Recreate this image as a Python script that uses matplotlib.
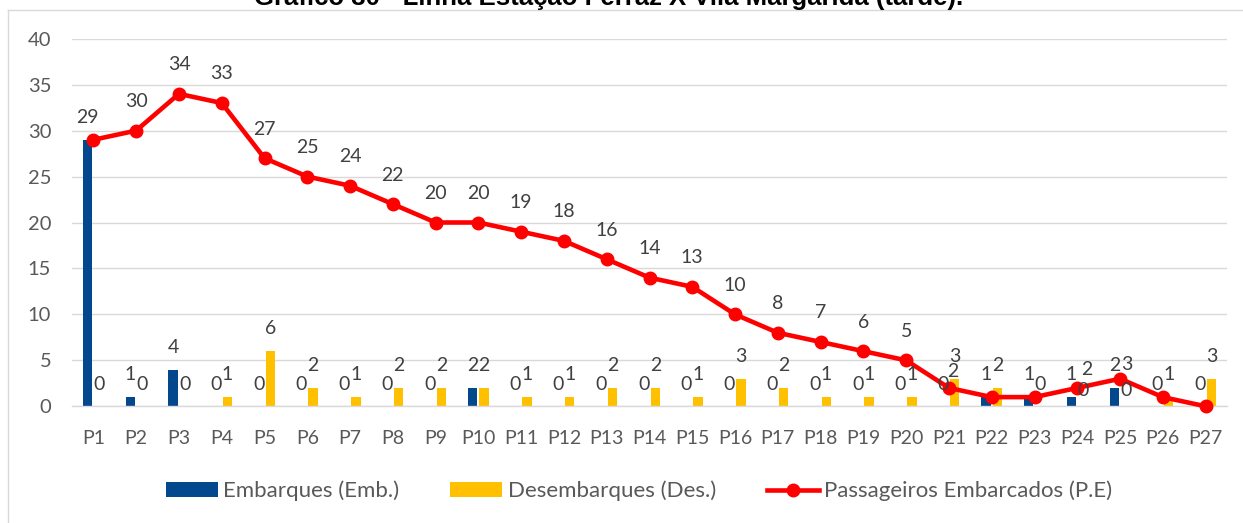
import matplotlib
matplotlib.use("Agg")
import matplotlib.pyplot as plt
from matplotlib.patches import Patch
from matplotlib.lines import Line2D
import numpy as np

plt.rcParams['font.family'] = ['Lato', 'DejaVu Sans']

categories = [f"P{i}" for i in range(1, 28)]
embarques = [29, 1, 4, 0, 0, 0, 0, 0, 0, 2, 0, 0, 0, 0, 0, 0, 0, 0, 0, 0, 0, 1, 1, 1, 2, 0, 0]
desembarques = [0, 0, 0, 1, 6, 2, 1, 2, 2, 2, 1, 1, 2, 2, 1, 3, 2, 1, 1, 1, 3, 2, 0, 0, 0, 1, 3]
passageiros = [29, 30, 34, 33, 27, 25, 24, 22, 20, 20, 19, 18, 16, 14, 13, 10, 8, 7, 6, 5, 2, 1, 1, 2, 3, 1, 0]
title = "Gráfico 30 - Linha Estação Ferraz X Vila Margarida (tarde)."
legend_labels = ["Embarques (Emb.)", "Desembarques (Des.)", "Passageiros Embarcados (P.E)"]

# label placement tweaks seen in the reference (offsets in points)
line_label_hidden = {"P1", "P22", "P23", "P26", "P27"}
line_label_offset = {"P21": (3, 8), "P24": (7, 9.5), "P25": (5, 6.5)}
des_label_offset = {"P24": (0, 7.5), "P25": (0, 7.5)}

W, H = 1243, 523
fig = plt.figure(figsize=(W / 100, H / 100), dpi=100)

BLUE = "#03488D"
YELLOW = "#FFC000"
RED = "#FF0000"
LBL = "#404040"
TICK = "#595959"
GRID = "#D9D9D9"
FS = 14

ax = fig.add_axes([72 / W, 1 - 406.3 / H, (1227 - 72) / W, (406.3 - 38.7) / H])
x = np.arange(len(categories))
bw = 0.22
off = 0.135
ax.bar(x - off, embarques, width=bw, color=BLUE, zorder=2)
ax.bar(x + off, desembarques, width=bw, color=YELLOW, zorder=2)
ax.plot(x, passageiros, color=RED, lw=3.3, marker='o', markersize=9, zorder=3, clip_on=False)

ax.set_xlim(-0.5, len(categories) - 0.5)
ax.set_ylim(0, 40)
ax.set_yticks(range(0, 41, 5))
ax.yaxis.grid(True, color=GRID, lw=1.0, zorder=0)
ax.set_axisbelow(True)
for s in ['top', 'right', 'left']:
    ax.spines[s].set_visible(False)
ax.spines['bottom'].set_color(GRID)
ax.spines['bottom'].set_linewidth(1.0)
ax.set_xticks(x)
ax.set_xticklabels(categories)
ax.tick_params(axis='x', length=0, pad=17, labelsize=FS, labelcolor=TICK)
ax.tick_params(axis='y', length=0, pad=15, labelsize=FS + 0.5, labelcolor=TICK)

for i in x:
    cat = categories[i]
    ax.annotate(str(embarques[i]), (i - off, embarques[i]), xytext=(0, 12),
                textcoords='offset points', ha='center', va='baseline',
                fontsize=FS, color=LBL, zorder=4, annotation_clip=False)
    ax.annotate(str(desembarques[i]), (i + off, desembarques[i]),
                xytext=des_label_offset.get(cat, (0, 12)),
                textcoords='offset points', ha='center', va='baseline',
                fontsize=FS, color=LBL, zorder=4, annotation_clip=False)
    if cat in line_label_hidden:
        continue
    ax.annotate(str(passageiros[i]), (i, passageiros[i]),
                xytext=line_label_offset.get(cat, (0, 17)),
                textcoords='offset points', ha='center', va='baseline',
                fontsize=FS, color=LBL, zorder=4, annotation_clip=False)

# chart frame (left and top edges visible)
fig.add_artist(Line2D([7.5 / W, 7.5 / W], [0, 1 - 9.5 / H], transform=fig.transFigure, color=GRID, lw=1.0))
fig.add_artist(Line2D([7.5 / W, 1], [1 - 9.5 / H, 1 - 9.5 / H], transform=fig.transFigure, color=GRID, lw=1.0))

fig.text(609 / W, 1 - 4.5 / H, title, ha='center', va='baseline', fontsize=18.5,
         fontweight='bold', family=['Liberation Sans', 'DejaVu Sans'], color='black')

handles = [Patch(facecolor=BLUE, edgecolor='none'),
           Patch(facecolor=YELLOW, edgecolor='none'),
           Line2D([], [], color=RED, lw=3.3, marker='o', markersize=9)]
fig.legend(handles, legend_labels, loc='center', bbox_to_anchor=(639 / W, 1 - 491 / H),
           ncol=3, frameon=False, fontsize=16, labelcolor=TICK,
           handlelength=2.35, handleheight=0.63, handletextpad=0.23, columnspacing=2.3)

fig.savefig("out.png", dpi=100)
